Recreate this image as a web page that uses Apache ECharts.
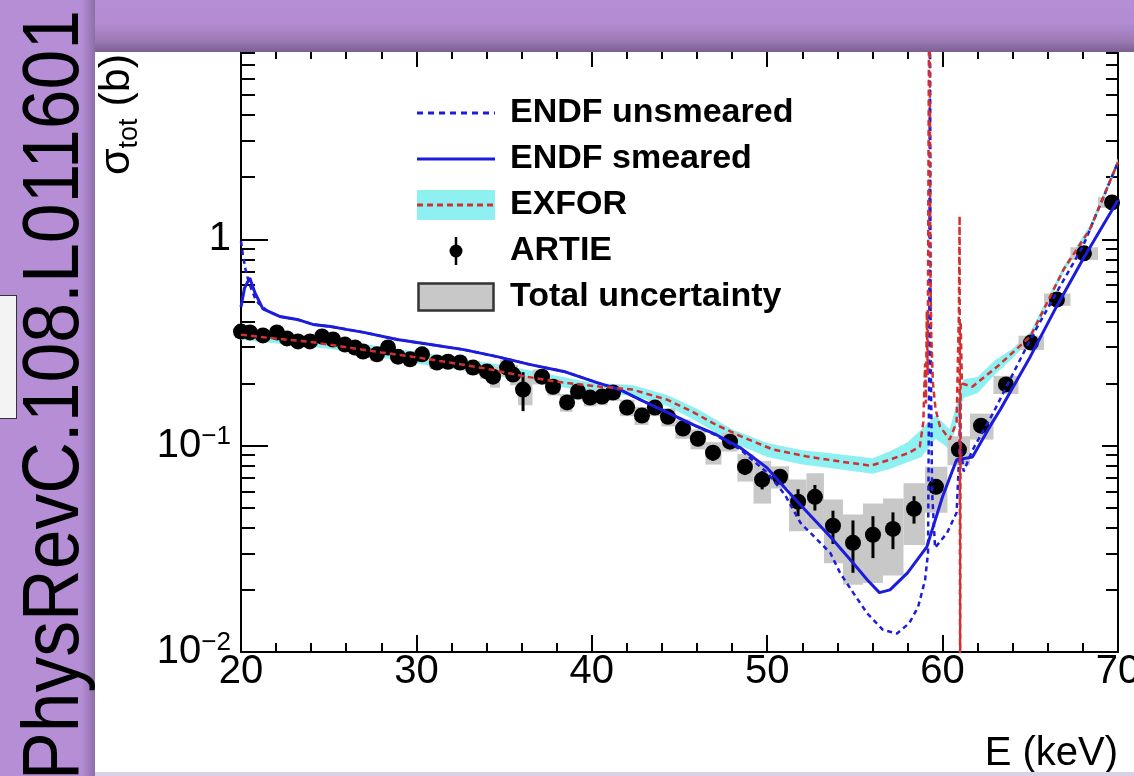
<!DOCTYPE html>
<html>
<head>
<meta charset="utf-8">
<script src="https://cdn.jsdelivr.net/npm/echarts@6/dist/echarts.min.js"></script>
<style>
html, body { margin: 0; padding: 0; }
#stage { position: relative; width: 1134px; height: 776px; overflow: hidden; background: #b58ed6; }
#panel { position: absolute; left: 95px; top: 52px; width: 1039px; height: 720px; background: #fff; }
#chart { position: absolute; left: 0; top: 0; width: 1134px; height: 776px; }
#topbar { position: absolute; left: 95px; top: 0; width: 1039px; height: 52px;
  background: linear-gradient(to bottom, #b58ed6 0%, #b28bd2 45%, #9a78b2 80%, #7b5e92 100%); }
#leftbar { position: absolute; left: 0; top: 0; width: 95px; height: 776px;
  background: linear-gradient(to right, #b58ed6 0%, #b58ed6 86%, #8d6ea6 100%); }
#ref { position: absolute; left: 11px; top: 780px; transform-origin: 0 0; transform: rotate(-90deg) scaleX(0.894);
  font-family: "Liberation Sans", Arial, sans-serif; font-size: 80px; line-height: 80px; white-space: nowrap; color: #000; }
#stub { position: absolute; left: 0; top: 295px; width: 16px; height: 122px; background: #f3f3f3;
  border: 1px solid #333; border-left: none; }
#foot { position: absolute; left: 95px; top: 772px; width: 1039px; height: 4px; background: #d9d2e6; }
</style>
</head>
<body>
<div id="stage">
  <div id="panel"></div>
  <div id="chart"></div>
  <div id="topbar"></div>
  <div id="leftbar"></div>
  <div id="ref">PhysRevC.108.L011601</div>
  <div id="stub"></div>
  <div id="foot"></div>
</div>
<script>
// ENDF smeared (solid blue)
var smE = [20.0, 20.2, 20.5, 20.8, 21.25, 22.2, 23.2, 24.1, 25.1, 26.0, 27.0, 28.9, 30.8, 32.7, 34.6, 36.5, 38.4, 40.3, 41.6, 42.75, 44.3, 45.8, 47.1, 48.45, 50.0, 51.1, 52.3, 53.6, 54.9, 55.7, 56.4, 57.0, 58.0, 59.1, 60.0, 60.8, 61.7, 62.7, 63.3, 65.0, 66.5, 68.0, 70.0];
var smV = [0.47, 0.58, 0.65, 0.55, 0.46, 0.423, 0.409, 0.387, 0.378, 0.366, 0.354, 0.327, 0.309, 0.292, 0.270, 0.247, 0.229, 0.202, 0.187, 0.167, 0.145, 0.126, 0.113, 0.098, 0.078, 0.0612, 0.0474, 0.0362, 0.027, 0.0224, 0.0194, 0.020, 0.0242, 0.0323, 0.0567, 0.0855, 0.088, 0.124, 0.15, 0.27, 0.473, 0.80, 1.55];

// ENDF unsmeared (dashed blue)
var usE = [20.0, 20.1, 20.25, 20.4, 20.6, 20.8, 21.0, 21.5, 22.2, 23.2, 24.1, 25.1, 26.0, 27.0, 28.9, 30.8, 32.7, 34.6, 36.5, 38.4, 40.3, 41.6, 42.75, 44.3, 45.8, 47.1, 48.45, 50.0, 51.0, 51.9, 53.0, 53.6, 54.15, 54.9, 55.7, 56.6, 57.4, 58.1, 58.6, 59.0, 59.17, 59.24, 59.28, 59.32, 59.4, 59.57, 60.25, 60.8, 60.97, 61.0, 61.03, 61.2, 61.7, 62.9, 65.0, 66.5, 68.0, 70.0];
var usV = [0.98, 0.85, 0.72, 0.64, 0.57, 0.52, 0.49, 0.45, 0.423, 0.409, 0.387, 0.378, 0.366, 0.354, 0.327, 0.309, 0.292, 0.270, 0.247, 0.229, 0.202, 0.187, 0.167, 0.145, 0.126, 0.112, 0.096, 0.074, 0.058, 0.0422, 0.034, 0.0302, 0.0242, 0.0194, 0.0154, 0.0128, 0.0123, 0.0138, 0.0165, 0.0223, 0.0303, 0.3, 20, 0.3, 0.06, 0.032, 0.0377, 0.0474, 0.1, 0.17, 0.1, 0.075, 0.095, 0.145, 0.327, 0.553, 0.925, 2.37];

// EXFOR (red dashed) and its band
var exE = [20.0, 22.0, 24.0, 26.0, 28.0, 30.0, 32.0, 34.0, 36.0, 38.0, 40.5, 42.3, 44.3, 45.8, 47.1, 48.6, 50.3, 52.3, 54.2, 55.9, 57.0, 58.1, 58.7, 58.9, 59.0, 59.05, 59.1, 59.15, 59.2, 59.25, 59.3, 59.35, 59.45, 59.6, 59.85, 60.4, 60.8, 60.93, 60.97, 61.0, 61.03, 61.1, 61.7, 63.1, 65.0, 66.9, 68.4, 70.0];
var exV = [0.345, 0.33, 0.318, 0.30, 0.283, 0.268, 0.252, 0.236, 0.218, 0.204, 0.193, 0.187, 0.167, 0.145, 0.126, 0.110, 0.096, 0.0885, 0.0837, 0.080, 0.0855, 0.0925, 0.099, 0.13, 0.25, 0.16, 0.45, 0.22, 3.0, 40, 0.8, 0.35, 0.2, 0.15, 0.124, 0.107, 0.13, 0.45, 1.3, 0.004, 0.4, 0.2, 0.193, 0.241, 0.338, 0.715, 1.12, 2.37];
var bandE = [20, 25, 30, 35, 40, 42.3, 44.3, 46, 48, 50, 52, 54, 56, 57, 58, 58.8, 59.6, 60.4, 61.2, 62, 63, 64, 65, 66.9, 68.4, 70];
var bandLo = [0.325, 0.295, 0.25, 0.215, 0.181, 0.175, 0.156, 0.131, 0.104, 0.088, 0.081, 0.077, 0.073, 0.077, 0.083, 0.088, 0.108, 0.096, 0.17, 0.18, 0.222, 0.265, 0.325, 0.69, 1.07, 2.28];
var bandHi = [0.365, 0.33, 0.285, 0.245, 0.202, 0.197, 0.176, 0.151, 0.12, 0.103, 0.095, 0.091, 0.087, 0.094, 0.104, 0.12, 0.14, 0.12, 0.21, 0.215, 0.26, 0.295, 0.355, 0.74, 1.17, 2.47];

// ARTIE points, stat error and total uncertainty
var artE = [20.0, 20.51, 21.25, 22.05, 22.62, 23.25, 23.93, 24.62, 25.25, 25.93, 26.50, 26.96, 27.75, 28.38, 28.95, 29.64, 30.32, 31.17, 31.80, 32.49, 33.23, 34.02, 34.37, 35.17, 35.51, 36.08, 37.16, 37.79, 38.59, 39.21, 39.90, 40.58, 41.21, 42.01, 42.86, 43.60, 44.34, 45.20, 46.05, 46.91, 47.88, 48.73, 49.71, 50.73, 51.76, 52.72, 53.75, 54.89, 56.03, 57.17, 58.37, 59.62, 60.93, 62.19, 63.61, 65.04, 66.52, 68.06, 69.66];
var artV = [0.357, 0.354, 0.342, 0.354, 0.331, 0.320, 0.320, 0.338, 0.327, 0.309, 0.299, 0.286, 0.277, 0.299, 0.270, 0.262, 0.277, 0.253, 0.255, 0.253, 0.239, 0.229, 0.216, 0.239, 0.221, 0.187, 0.216, 0.193, 0.162, 0.183, 0.171, 0.173, 0.181, 0.153, 0.140, 0.153, 0.138, 0.121, 0.108, 0.0925, 0.1046, 0.079, 0.0684, 0.0707, 0.0535, 0.0565, 0.0409, 0.0338, 0.037, 0.0395, 0.0494, 0.0632, 0.0957, 0.125, 0.198, 0.316, 0.511, 0.855, 1.51];
var artErr = [0.008, 0.008, 0.008, 0.008, 0.008, 0.008, 0.008, 0.008, 0.008, 0.008, 0.008, 0.008, 0.008, 0.008, 0.008, 0.008, 0.008, 0.008, 0.008, 0.008, 0.008, 0.008, 0.015, 0.008, 0.012, 0.04, 0.01, 0.01, 0.012, 0.01, 0.01, 0.01, 0.01, 0.008, 0.008, 0.008, 0.008, 0.008, 0.008, 0.008, 0.008, 0.007, 0.007, 0.004, 0.008, 0.008, 0.0075, 0.0096, 0.0085, 0.008, 0.0075, 0.005, 0.006, 0.008, 0.01, 0.015, 0.02, 0.03, 0.05];
var artTot = [0.02, 0.02, 0.02, 0.02, 0.02, 0.02, 0.02, 0.02, 0.02, 0.02, 0.02, 0.02, 0.02, 0.02, 0.02, 0.018, 0.018, 0.018, 0.018, 0.018, 0.018, 0.018, 0.025, 0.022, 0.025, 0.03, 0.018, 0.018, 0.016, 0.016, 0.016, 0.016, 0.016, 0.014, 0.014, 0.014, 0.014, 0.013, 0.012, 0.0115, 0.011, 0.012, 0.016, 0.0087, 0.015, 0.017, 0.014, 0.0126, 0.0154, 0.016, 0.0164, 0.0159, 0.0154, 0.018, 0.02, 0.025, 0.035, 0.06, 0.09];

// axis ticks
var yMajor = [0.01, 0.1, 1];
var yMinor = [0.02, 0.03, 0.04, 0.05, 0.06, 0.07, 0.08, 0.09, 0.2, 0.3, 0.4, 0.5, 0.6, 0.7, 0.8, 0.9, 2, 3, 4, 5, 6, 7, 8];

var FONT = 'Liberation Sans';
var BLUE = '#1c1cdc';
var RED = '#d03030';
var pairs = function (xs, ys) { return xs.map(function (x, i) { return [x, ys[i]]; }); };
var svgIcon = function (s) { return 'image://data:image/svg+xml;charset=utf-8,' + encodeURIComponent(s); };
var svgOpen = "<svg xmlns='http://www.w3.org/2000/svg' width='78' height='30'>";

var iconUnsm = svgIcon(svgOpen + "<line x1='0' y1='15' x2='78' y2='15' stroke='" + BLUE + "' stroke-width='3' stroke-dasharray='6,5'/></svg>");
var iconSm = svgIcon(svgOpen + "<line x1='0' y1='15' x2='78' y2='15' stroke='" + BLUE + "' stroke-width='3'/></svg>");
var iconExfor = svgIcon(svgOpen + "<rect width='78' height='30' fill='#8ff0f2'/><line x1='0' y1='15' x2='78' y2='15' stroke='" + RED + "' stroke-width='3' stroke-dasharray='6,4'/></svg>");
var iconArtie = svgIcon(svgOpen + "<line x1='39' y1='1' x2='39' y2='29' stroke='#000' stroke-width='2.5'/><circle cx='39' cy='15' r='6.5' fill='#000'/></svg>");
var iconTotal = svgIcon(svgOpen + "<rect x='1.5' y='1.5' width='75' height='27' fill='#c8c8c8' stroke='#333' stroke-width='2.5'/></svg>");

var xBase = {
  type: 'value', min: 20, max: 70, interval: 10,
  axisLine: { onZero: false, lineStyle: { color: '#000', width: 2 } },
  axisTick: { inside: true, length: 17, lineStyle: { color: '#000', width: 2 } },
  minorTick: { show: true, splitNumber: 5, length: 9, lineStyle: { color: '#000', width: 2 } },
  splitLine: { show: false }
};
var yBase = {
  type: 'log', logBase: 10, min: 0.01, max: 8.27,
  axisLine: { show: false, onZero: false, lineStyle: { color: '#000', width: 2 } },
  axisTick: { inside: true, lineStyle: { color: '#000', width: 2 } },
  axisLabel: { show: false },
  splitLine: { show: false }
};

// bin edges for the grey boxes
var artBins = artE.map(function (e, i) {
  var lo = i > 0 ? (artE[i - 1] + e) / 2 : e - (artE[1] - e) / 2;
  var hi = i < artE.length - 1 ? (artE[i + 1] + e) / 2 : e + (e - artE[i - 1]) / 2;
  return [e, artV[i], artTot[i], lo, hi];
});

var chart = echarts.init(document.getElementById('chart'));
chart.setOption({
  animation: false,
  textStyle: { fontFamily: FONT },
  grid: { left: 241, right: 16, top: 50, bottom: 124, containLabel: false, outerBoundsMode: 'none' },
  legend: {
    orient: 'vertical', left: 412, top: 91,
    itemWidth: 78, itemHeight: 30, itemGap: 12,
    selectedMode: false,
    textStyle: { fontFamily: FONT, fontWeight: 'bold', fontSize: 34, color: '#000', padding: [0, 0, 0, 10] },
    data: [
      { name: 'ENDF unsmeared', icon: iconUnsm },
      { name: 'ENDF smeared', icon: iconSm },
      { name: 'EXFOR', icon: iconExfor },
      { name: 'ARTIE', icon: iconArtie },
      { name: 'Total uncertainty', icon: iconTotal }
    ]
  },
  xAxis: [
    Object.assign({}, xBase, {
      position: 'bottom',
      axisLabel: { fontFamily: FONT, fontSize: 40, color: '#000', margin: 0 },
      name: 'E (keV)', nameLocation: 'end', nameGap: 0,
      nameTextStyle: { fontFamily: FONT, fontSize: 40, color: '#000', align: 'right', verticalAlign: 'top', padding: [82, 0, 0, 0] }
    }),
    Object.assign({}, xBase, { position: 'top', axisLabel: { show: false } })
  ],
  yAxis: [
    Object.assign({}, yBase, {
      position: 'left',
      axisLine: { show: true, onZero: false, lineStyle: { color: '#000', width: 2 } },
      axisTick: { inside: true, length: 27, customValues: yMajor, lineStyle: { color: '#000', width: 2 } },
      axisLabel: {
        show: true, customValues: yMajor, margin: 10, color: '#000', fontFamily: FONT, fontSize: 40, lineHeight: 44,
        formatter: function (v) {
          var p = Math.round(Math.log10(v));
          return p === 0 ? '1' : '10{sup|\u2212' + (-p) + '}';
        },
        rich: { sup: { fontFamily: FONT, fontSize: 26, lineHeight: 44, verticalAlign: 'top', color: '#000' } }
      }
    }),
    Object.assign({}, yBase, {
      position: 'left',
      axisTick: { inside: true, length: 14, customValues: yMinor, lineStyle: { color: '#000', width: 2 } }
    }),
    Object.assign({}, yBase, {
      position: 'right',
      axisLine: { show: true, onZero: false, lineStyle: { color: '#000', width: 2 } },
      axisTick: { inside: true, length: 16, customValues: yMajor, lineStyle: { color: '#000', width: 2 } }
    }),
    Object.assign({}, yBase, {
      position: 'right',
      axisTick: { inside: true, length: 12, customValues: yMinor, lineStyle: { color: '#000', width: 2 } }
    })
  ],
  graphic: [{
    type: 'text', x: 143, y: 54, rotation: Math.PI / 2, z: 10,
    style: {
      text: '{s|\u03c3}{t|tot}{s| (b)}',
      align: 'right', verticalAlign: 'bottom', fill: '#000',
      rich: {
        s: { fontFamily: FONT, fontSize: 43, lineHeight: 52, fill: '#000' },
        t: { fontFamily: FONT, fontSize: 27, lineHeight: 52, verticalAlign: 'bottom', fill: '#000' }
      }
    }
  }],
  series: [
    {
      name: 'EXFOR band', type: 'custom', z: 1, clip: true, silent: true,
      data: [[45, 0.2]],
      renderItem: function (params, api) {
        var pts = [];
        bandE.forEach(function (e, i) { pts.push(api.coord([e, bandHi[i]])); });
        for (var i = bandE.length - 1; i >= 0; i--) pts.push(api.coord([bandE[i], bandLo[i]]));
        return { type: 'polygon', shape: { points: pts }, style: { fill: '#8ff0f2' } };
      }
    },
    {
      name: 'Total uncertainty', type: 'custom', z: 2, clip: true,
      itemStyle: { color: '#c8c8c8' },
      data: artBins,
      renderItem: function (params, api) {
        var v = api.value(1), t = api.value(2);
        var a = api.coord([api.value(3), v + t]);
        var b = api.coord([api.value(4), v - t]);
        return { type: 'rect', shape: { x: a[0], y: a[1], width: b[0] - a[0], height: b[1] - a[1] }, style: { fill: '#c8c8c8' } };
      }
    },
    {
      name: 'ARTIE errors', type: 'custom', z: 3, clip: true, silent: true,
      data: artE.map(function (e, i) { return [e, artV[i], artErr[i]]; }),
      renderItem: function (params, api) {
        var v = api.value(1), er = api.value(2);
        var a = api.coord([api.value(0), v - er]);
        var b = api.coord([api.value(0), v + er]);
        return { type: 'line', shape: { x1: a[0], y1: a[1], x2: b[0], y2: b[1] }, style: { stroke: '#000', lineWidth: 3 } };
      }
    },
    {
      name: 'ARTIE', type: 'scatter', z: 4, symbol: 'circle', symbolSize: 16,
      itemStyle: { color: '#000', opacity: 1 },
      data: pairs(artE, artV)
    },
    {
      name: 'ENDF unsmeared', type: 'line', z: 5, symbol: 'none',
      lineStyle: { color: BLUE, width: 2.5, type: [5, 4] },
      itemStyle: { color: BLUE },
      data: pairs(usE, usV)
    },
    {
      name: 'ENDF smeared', type: 'line', z: 5, symbol: 'none',
      lineStyle: { color: BLUE, width: 3 },
      itemStyle: { color: BLUE },
      data: pairs(smE, smV)
    },
    {
      name: 'EXFOR', type: 'line', z: 6, symbol: 'none',
      lineStyle: { color: RED, width: 2.5, type: [6, 4] },
      itemStyle: { color: RED },
      data: pairs(exE, exV)
    }
  ]
});
</script>
</body>
</html>
